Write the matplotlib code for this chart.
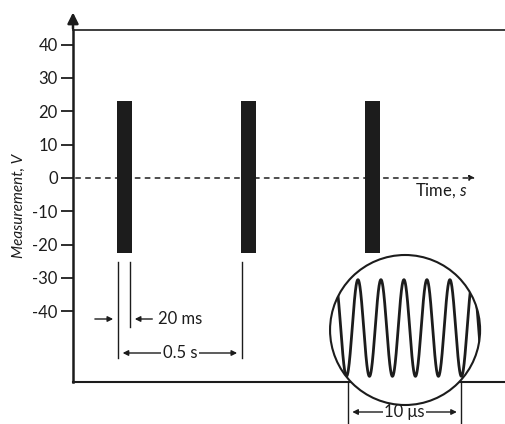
import numpy as np
import matplotlib
matplotlib.use("Agg")
import matplotlib.pyplot as plt
from matplotlib.patches import Ellipse

plt.rcParams['font.family'] = ['Lato', 'DejaVu Sans']
plt.rcParams['axes.unicode_minus'] = False
plt.rcParams['mathtext.fontset'] = 'custom'
plt.rcParams['mathtext.it'] = 'Lato:italic'
plt.rcParams['mathtext.rm'] = 'Lato'

# ---- data ----
yticks = [-40, -30, -20, -10, 0, 10, 20, 30, 40]
ytick_labels = ['-40', '-30', '-20', '-10', '0', '10', '20', '30', '40']
burst_starts = [0.177, 0.677, 1.177]      # s (schematic)
burst_width = 0.06
burst_low = -22.5
burst_high = 23.1
# zoomed waveform (schematic) inside the magnifier circle
zoom_center = (1.339, -45.6)
zoom_w, zoom_h = 0.605, 45.0
wave_mid = -45.0
wave_amp = 14.5
wave_period = 0.0927
wave_peak_t = 1.149

ink = '#1c1c1c'
fig = plt.figure(figsize=(5.05, 4.24), dpi=100)
ax = fig.add_axes([73/505, 42/424, 432/505, 352/424])
ax.set_xlim(0, 432/248)
ax.set_ylim(-61.2, 44.4)

ax.spines['right'].set_visible(False)
ax.spines['left'].set_linewidth(1.8)
ax.spines['bottom'].set_linewidth(1.5)
ax.spines['top'].set_linewidth(1.2)
for s in ['left', 'bottom', 'top']:
    ax.spines[s].set_color(ink)

ax.set_xticks([])
ax.set_yticks(yticks)
ax.set_yticklabels(ytick_labels, fontsize=12)
ax.tick_params(axis='y', length=9, width=1.3, pad=2, colors=ink)

ax.set_ylabel('Measurement, V', fontstyle='italic', fontsize=11, color=ink, labelpad=5)

# arrow on y axis
ax.annotate('', xy=(0, 50.5), xytext=(0, 44.0), xycoords='data',
            arrowprops=dict(arrowstyle='-|>', color=ink, lw=1.8, mutation_scale=16),
            annotation_clip=False)

# dashed time axis
ax.annotate('', xy=(1.633, 0), xytext=(0, 0),
            arrowprops=dict(arrowstyle='-|>', color=ink, lw=1.1, linestyle=(0, (3, 3.5)),
                            mutation_scale=8))
ax.text(1.379, -3.8, 'Time, $s$', fontsize=12, va='center', ha='left', color=ink)

# bursts
ax.bar(burst_starts, burst_high - burst_low, bottom=burst_low, width=burst_width,
       align='edge', color=ink, zorder=3)

# dimension: 20 ms
x1 = burst_starts[0] + 0.004
x2 = burst_starts[0] + 0.053
x3 = burst_starts[1] + 0.004
ax.plot([x1, x1], [-25.2, -54.0], color=ink, lw=1.0)
ax.plot([x2, x2], [-25.2, -44.7], color=ink, lw=1.0)
ax.plot([x3, x3], [-25.2, -54.0], color=ink, lw=1.0)
ax.annotate('', xy=(x1 - 0.008, -42.3), xytext=(0.077, -42.3),
            arrowprops=dict(arrowstyle='-|>', color=ink, lw=1.0, mutation_scale=8))
ax.annotate('', xy=(x2 + 0.008, -42.3), xytext=(0.331, -42.3),
            arrowprops=dict(arrowstyle='-|>', color=ink, lw=1.0, mutation_scale=8))
ax.text(0.343, -42.3, '20 ms', fontsize=12, va='center', ha='left', color=ink)

# dimension: 0.5 s
ax.annotate('', xy=(x1 + 0.008, -52.5), xytext=(x3 - 0.008, -52.5),
            arrowprops=dict(arrowstyle='<|-|>', color=ink, lw=1.0, mutation_scale=8))
ax.text(0.431, -52.5, '0.5 s', fontsize=12, va='center', ha='center', color=ink,
        bbox=dict(facecolor='white', edgecolor='none', pad=1.5))

# magnifier circle
circ = Ellipse(zoom_center, zoom_w, zoom_h, facecolor='white', edgecolor=ink,
               lw=1.5, zorder=4, clip_on=False)
ax.add_patch(circ)
t = np.linspace(zoom_center[0] - zoom_w/2, zoom_center[0] + zoom_w/2, 800)
v = wave_mid + wave_amp * np.cos(2*np.pi*(t - wave_peak_t)/wave_period)
wl, = ax.plot(t, v, color=ink, lw=2.0, zorder=5, clip_on=True)
wl.set_clip_path(circ)

# dimension: 10 us
xa, xb = 1.109, 1.565
for xx in (xa, xb):
    ax.plot([xx, xx], [-61.2, -74.5], color=ink, lw=1.0, clip_on=False)
ax.annotate('', xy=(xa + 0.006, -70.2), xytext=(xb - 0.006, -70.2),
            arrowprops=dict(arrowstyle='<|-|>', color=ink, lw=1.0, mutation_scale=8),
            annotation_clip=False)
ax.text((xa + xb)/2, -70.2, '10 \u03bcs', fontsize=12, va='center', ha='center', color=ink,
        bbox=dict(facecolor='white', edgecolor='none', pad=1.0), clip_on=False)

fig.savefig('out.png', dpi=100, facecolor='white')
